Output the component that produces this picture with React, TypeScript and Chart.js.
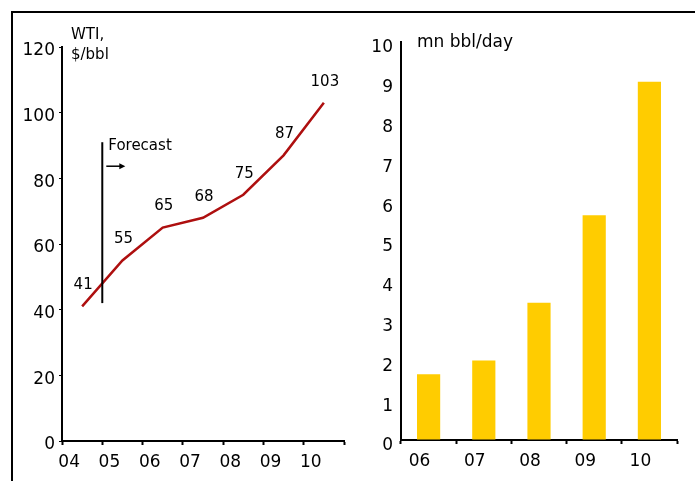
import React, { useEffect, useRef } from "react";
import { Chart, registerables } from "chart.js";

Chart.register(...registerables);

const years = ["04", "05", "06", "07", "08", "09", "10"];
const wtiPrice = [41, 55, 65, 68, 75, 87, 103];
const barYears = ["06", "07", "08", "09", "10"];
const capacity = [1.65, 2.0, 3.45, 5.65, 9.0];
const forecastRange = [42, 91];
const FONT = "'DejaVu Sans', Verdana, sans-serif";

const lineExtras = {
  id: "lineExtras",
  afterDatasetsDraw(chart: any) {
    const ctx = chart.ctx;
    const xs = chart.scales.x;
    const ys = chart.scales.y;
    const meta = chart.getDatasetMeta(0);
    ctx.save();
    ctx.fillStyle = "#000";
    ctx.font = `15px ${FONT}`;
    ctx.textAlign = "center";
    ctx.textBaseline = "middle";
    meta.data.forEach((pt: any, i: number) => {
      ctx.fillText(String(wtiPrice[i]), pt.x + 1, pt.y - 21);
    });
    // forecast marker
    const bx = (xs.getPixelForValue(0) + xs.getPixelForValue(1)) / 2;
    const yTop = ys.getPixelForValue(forecastRange[1]);
    const yBot = ys.getPixelForValue(forecastRange[0]);
    ctx.strokeStyle = "#000";
    ctx.lineWidth = 2;
    ctx.beginPath();
    ctx.moveTo(bx, yTop);
    ctx.lineTo(bx, yBot);
    ctx.stroke();
    ctx.textAlign = "left";
    ctx.fillText("Forecast", bx + 6, yTop + 4);
    const ay = yTop + 24;
    ctx.lineWidth = 1.5;
    ctx.beginPath();
    ctx.moveTo(bx + 4, ay);
    ctx.lineTo(bx + 18, ay);
    ctx.stroke();
    ctx.beginPath();
    ctx.moveTo(bx + 23, ay);
    ctx.lineTo(bx + 17, ay - 3);
    ctx.lineTo(bx + 17, ay + 3);
    ctx.closePath();
    ctx.fill();
    // axis title
    ctx.font = `15px ${FONT}`;
    ctx.textBaseline = "middle";
    ctx.fillText("WTI,", chart.chartArea.left + 9, 35);
    ctx.fillText("$/bbl", chart.chartArea.left + 9, 55);
    ctx.restore();
  },
};

const barExtras = {
  id: "barExtras",
  afterDraw(chart: any) {
    const ctx = chart.ctx;
    ctx.save();
    ctx.fillStyle = "#000";
    ctx.font = `17px ${FONT}`;
    ctx.textAlign = "left";
    ctx.textBaseline = "middle";
    ctx.fillText("mn bbl/day", chart.chartArea.left + 16, 43);
    ctx.restore();
  },
};

export default function App() {
  const leftRef = useRef<HTMLCanvasElement>(null);
  const rightRef = useRef<HTMLCanvasElement>(null);

  useEffect(() => {
    Chart.defaults.font.family = FONT;
    Chart.defaults.color = "#000";

    const left = new Chart(leftRef.current as HTMLCanvasElement, {
      type: "line",
      data: {
        labels: years,
        datasets: [
          {
            data: wtiPrice,
            borderColor: "#AE0F0F",
            borderWidth: 2.5,
            pointRadius: 0,
            tension: 0,
            fill: false,
          },
        ],
      },
      options: {
        animation: false,
        responsive: false,
        devicePixelRatio: 1,
        layout: { padding: { top: 47, right: 6, left: 0, bottom: 0 } },
        plugins: { legend: { display: false }, tooltip: { enabled: false } },
        scales: {
          x: {
            type: "category",
            offset: true,
            grid: {
              display: true,
              offset: true,
              drawOnChartArea: false,
              drawTicks: true,
              tickLength: 4,
              tickWidth: 2,
              tickColor: "#000",
            },
            border: { display: true, color: "#000", width: 2 },
            ticks: { font: { size: 17 }, color: "#000", padding: 7, labelOffset: -13, maxRotation: 0, autoSkip: false },
            afterFit: (s: any) => {
              s.height = 40;
            },
          },
          y: {
            min: 0,
            max: 120,
            grid: {
              display: true,
              drawOnChartArea: false,
              drawTicks: true,
              tickLength: 3,
              tickWidth: 1,
              tickColor: "#000",
            },
            border: { display: true, color: "#000", width: 2 },
            ticks: { stepSize: 20, font: { size: 17 }, color: "#000", padding: 4, labelOffset: 4 },
            afterFit: (s: any) => {
              s.width = 62;
            },
          },
        },
      },
      plugins: [lineExtras],
    });

    const right = new Chart(rightRef.current as HTMLCanvasElement, {
      type: "bar",
      data: {
        labels: barYears,
        datasets: [
          {
            data: capacity,
            backgroundColor: "#FFCC00",
            borderWidth: 0,
            barPercentage: 0.42,
            categoryPercentage: 1,
          },
        ],
      },
      options: {
        animation: false,
        responsive: false,
        devicePixelRatio: 1,
        layout: { padding: { top: 42, right: 18, left: 0, bottom: 0 } },
        plugins: { legend: { display: false }, tooltip: { enabled: false } },
        scales: {
          x: {
            grid: {
              display: true,
              offset: true,
              drawOnChartArea: false,
              drawTicks: true,
              tickLength: 4,
              tickWidth: 2,
              tickColor: "#000",
            },
            border: { display: true, color: "#000", width: 2 },
            ticks: { font: { size: 17 }, color: "#000", padding: 7, labelOffset: -9, maxRotation: 0, autoSkip: false },
            afterFit: (s: any) => {
              s.height = 41;
            },
          },
          y: {
            min: 0,
            max: 10,
            grid: { display: true, drawOnChartArea: false, drawTicks: false },
            border: { display: true, color: "#000", width: 2 },
            ticks: { stepSize: 1, font: { size: 17 }, color: "#000", padding: 8, labelOffset: 6 },
            afterFit: (s: any) => {
              s.width = 51;
            },
          },
        },
      },
      plugins: [barExtras],
    });

    return () => {
      left.destroy();
      right.destroy();
    };
  }, []);

  return (
    <div style={{ position: "absolute", left: 0, top: 0, width: 695, height: 481, overflow: "hidden", background: "#fff" }}>
      <div
        style={{
          position: "absolute",
          left: 11,
          top: 11,
          width: 720,
          height: 520,
          borderTop: "2px solid #000",
          borderLeft: "2px solid #000",
        }}
      />
      <canvas ref={leftRef} width={350} height={481} style={{ position: "absolute", left: 0, top: 0 }} />
      <canvas ref={rightRef} width={345} height={481} style={{ position: "absolute", left: 350, top: 0 }} />
    </div>
  );
}
